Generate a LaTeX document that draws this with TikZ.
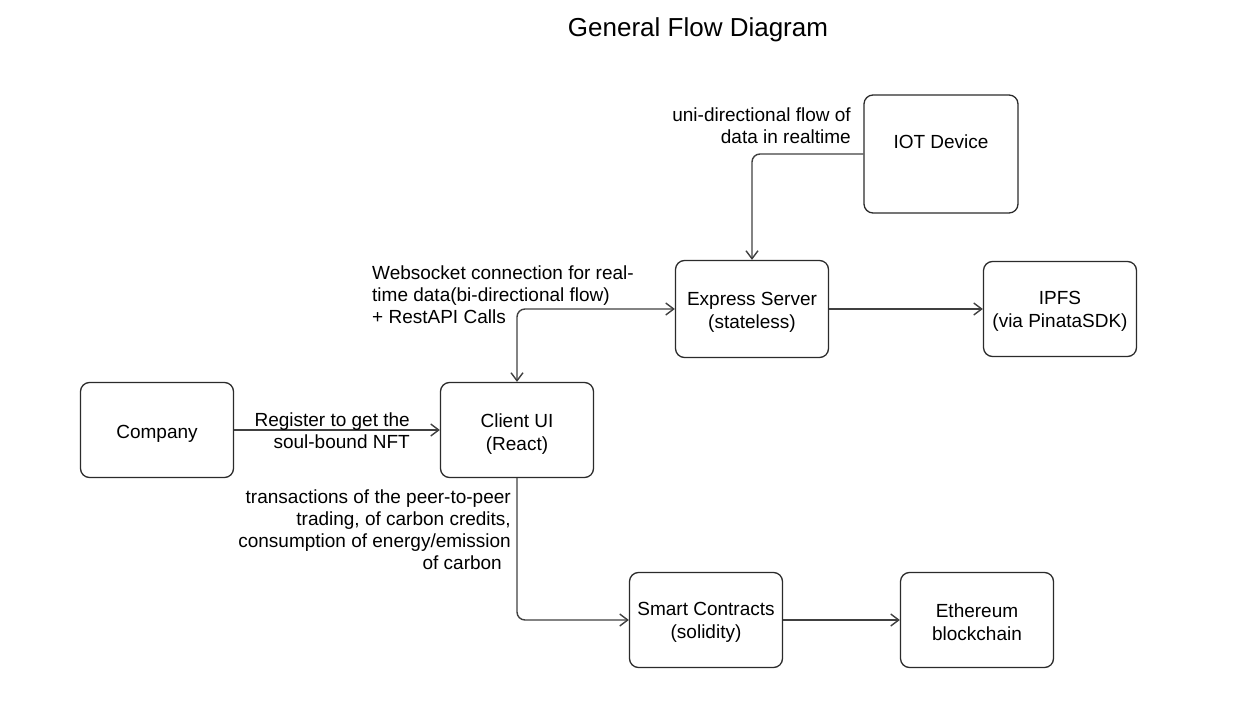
\documentclass[tikz,border=0pt]{standalone}
\usepackage{fontspec}
\setmainfont{Liberation Sans}
\usetikzlibrary{arrows.meta}
\definecolor{inkgray}{HTML}{2B2B2B}
\definecolor{linegray}{HTML}{404040}

\begin{document}
\begin{tikzpicture}[x=1pt, y=-1pt,
	>={Straight Barb[length=8pt, width=12pt]},
	every node/.style={font=\fontsize{19}{22}\selectfont, text=black},
	every label/.style={align=center, inner sep=0pt, font=\fontsize{19}{23}\selectfont},
	block/.style={draw=inkgray, line width=1.3pt, rounded corners=9pt, minimum width=153pt, minimum height=95pt, inner sep=0pt},
	link/.style={draw=linegray, line width=1.4pt, rounded corners=8pt, ->},
	note/.style={inner sep=0pt}]
	\useasboundingbox (0,0) rectangle (1245,703);
	\node[font=\fontsize{26}{30}\selectfont] (title) at (698,30) {General Flow Diagram};

	% boxes
	\node[block, minimum width=154pt, minimum height=118pt, label={[yshift=12pt]center:IOT Device}] (iot) at (941,154) {};
	\node[block, minimum height=97pt, label={[yshift=-3pt]center:Express Server\\(stateless)}] (express) at (752,309) {};
	\node[block, label={[yshift=-2pt]center:IPFS\\(via PinataSDK)}] (ipfs) at (1060,309) {};
	\node[block, label={[yshift=-4pt]center:Company}] (company) at (157,430) {};
	\node[block, label={[yshift=-4pt]center:Client UI\\(React)}] (client) at (517,430) {};
	\node[block, label={[yshift=-2pt]center:Smart Contracts\\(solidity)}] (smart) at (706,620) {};
	\node[block, label={[yshift=-2pt]center:Ethereum\\blockchain}] (eth) at (977,620) {};

	% connectors
	\draw[link] (iot.west) -| (express.north);
	\draw[link, <->] (client.north) |- (express.west);
	\draw[link] (express) -- (ipfs);
	\draw[link] (company) -- (client);
	\draw[link] (client.south) |- (smart.west);
	\draw[link] (smart) -- (eth);

	% labels
	\node[note, anchor=north east, align=right] (uninote) at (851,108) {uni-directional flow of\\data in realtime};
	\node[note, anchor=north west, align=left] (socknote) at (372,266) {Websocket connection for real-\\time data(bi-directional flow)\\+ RestAPI Calls};
	\node[note, anchor=north east, align=right] (regnote) at (410,413) {Register to get the\\soul-bound NFT};
	\node[note, anchor=north east, align=right] (txnote) at (511,490) {transactions of the peer-to-peer\\trading, of carbon credits,\\consumption of energy/emission\\of carbon\hspace*{9pt}};
\end{tikzpicture}
\end{document}
